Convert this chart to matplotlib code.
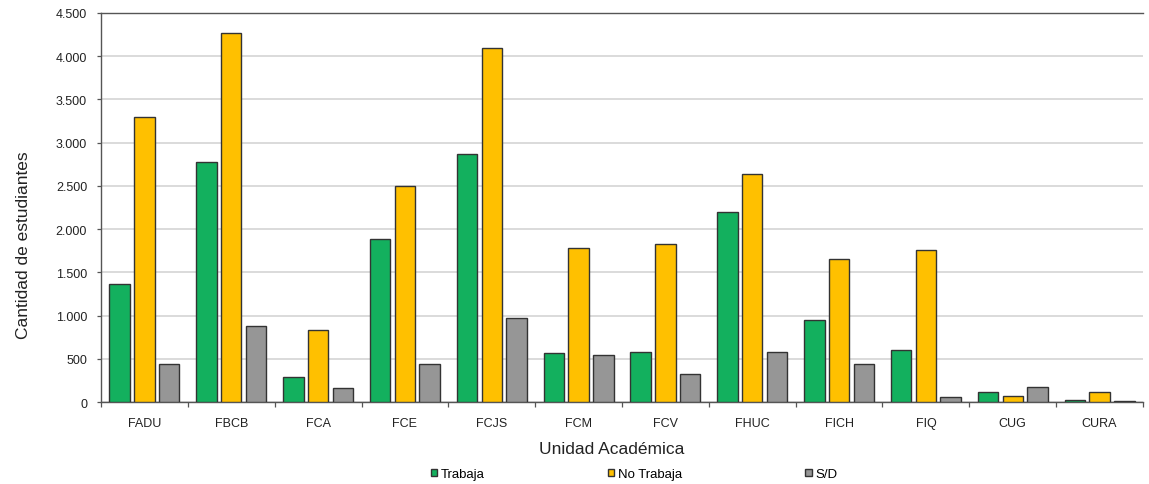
import matplotlib
matplotlib.use("Agg")
import matplotlib.pyplot as plt
import matplotlib.ticker as mticker
import numpy as np

plt.rcParams['font.family'] = ['Liberation Sans', 'DejaVu Sans']

categories = ["FADU", "FBCB", "FCA", "FCE", "FCJS", "FCM", "FCV", "FHUC", "FICH", "FIQ", "CUG", "CURA"]
trabaja = [1360, 2778, 285, 1884, 2874, 562, 578, 2203, 948, 605, 119, 27]
no_trabaja = [3300, 4265, 836, 2500, 4099, 1776, 1830, 2643, 1649, 1764, 69, 119]
sd = [435, 874, 165, 435, 975, 547, 327, 578, 435, 53, 177, 12]
series_names = ["Trabaja", "No Trabaja", "S/D"]
yticks = [0, 500, 1000, 1500, 2000, 2500, 3000, 3500, 4000, 4500]

colors = ["#13B05E", "#FFC000", "#969696"]

fig = plt.figure(figsize=(11.49, 4.85), dpi=100)
ax = fig.add_axes([101/1149, 1 - 403/485, (1143 - 101)/1149, (403 - 14)/485])

x = np.arange(len(categories))
w = 0.236
step = 0.285
for i, (vals, name, c) in enumerate(zip([trabaja, no_trabaja, sd], series_names, colors)):
    ax.bar(x + (i - 1) * step, vals, width=w, color=c, edgecolor="#333333",
           linewidth=1.0, label=name, zorder=3)

ax.set_xlim(-0.5, len(categories) - 0.5)
ax.set_ylim(0, 4500)
ax.set_yticks(yticks)
ax.yaxis.set_major_formatter(mticker.FuncFormatter(lambda v, p: f"{int(v):,}".replace(",", ".")))
ax.grid(axis="y", color="#d4d4d4", linewidth=1.2, zorder=0)
ax.set_axisbelow(True)

ax.set_xticks(x)
ax.set_xticklabels(categories)
ax.set_xticks(np.arange(-0.5, len(categories) + 0.5, 1), minor=True)
ax.tick_params(axis="x", which="major", length=0, pad=11, labelsize=9, labelcolor="#222222")
ax.tick_params(axis="x", which="minor", length=3.5, width=0.9, color="#555555", direction="out")
ax.tick_params(axis="y", length=3, width=0.9, color="#555555", pad=7, labelsize=9, labelcolor="#222222")

for s in ["left", "bottom", "top"]:
    ax.spines[s].set_color("#555555")
    ax.spines[s].set_linewidth(1.0)
ax.spines["right"].set_visible(False)

ax.set_ylabel("Cantidad de estudiantes", fontsize=12.5, labelpad=18, color="#222222", y=0.406)
ax.set_xlabel("Unidad Académica", fontsize=12.5, labelpad=8.5, color="#222222", x=0.49)

leg = fig.legend(loc="center", bbox_to_anchor=(0.552, 0.02), ncol=3, frameon=False,
                 fontsize=9.5, handlelength=0.5, handleheight=0.5, handletextpad=0.3,
                 columnspacing=9.3)

fig.savefig("out.png", dpi=100)
